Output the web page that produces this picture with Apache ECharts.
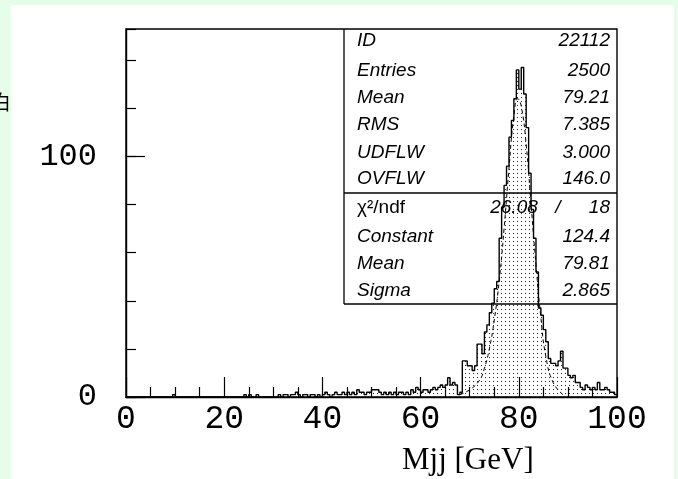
<!DOCTYPE html>
<html><head><meta charset="utf-8">
<script src="https://cdn.jsdelivr.net/npm/echarts@6/dist/echarts.min.js"></script>
<style>
html,body{margin:0;padding:0;background:#e6fde9;width:678px;height:479px;overflow:hidden}
#paper{position:absolute;left:11px;top:5px;width:663px;height:474px;background:#fff}
#chart{position:absolute;left:0;top:0;width:678px;height:479px}
</style></head><body>
<div id="paper"></div><div id="chart"></div>
<script>
// ---- data ----
const binLow = 0;          // GeV, lower edge of first bin
const binWidth = 0.5;      // GeV
const counts = [
  0,0,0,0,0,0,0,0,0,0,
  0,0,0,0,0,0,0,0,0,1,
  0,0,0,0,0,0,0,0,0,0,
  0,0,0,0,0,0,0,0,0,0,
  0,0,0,0,0,0,0,0,1,0,
  1,0,0,1,0,0,0,0,0,0,
  0,0,1,0,1,1,0,1,1,2,
  1,0,1,1,0,1,1,0,1,0,
  1,2,1,0,1,2,1,1,2,1,
  2,1,2,1,3,2,2,1,2,2,
  3,3,3,2,1,2,1,2,1,2,
  1,2,2,1,2,1,3,2,4,3,
  2,3,3,2,3,4,3,4,5,4,
  5,8,5,6,5,1,2,15,15,13,
  13,11,13,22,22,18,27,30,35,39,
  45,48,66,79,88,96,108,115,124,136,
  128,137,126,112,93,78,66,52,37,34,
  28,23,16,14,14,13,15,19,12,12,
  9,8,9,6,6,4,3,5,4,3,
  4,3,6,3,3,4,3,2,2,1
];
const fitX = [68,70,72,73,74,75,76,77,78,79,79.8,80.5,81.5,82.5,83.5,84.5,85.5,87,89];
const fitY = [1,3,7,12,20,32,48,70,95,117,124,121,105,80,55,33,17,6,1];
const xTickLabels = ['0','20','40','60','80','100'];
const yTickLabels = ['0','100'];
const statLabels = ['ID','Entries','Mean','RMS','UDFLW','OVFLW'];
const statValues = ['22112','2500','79.21','7.385','3.000','146.0'];
const fitLabels = ['χ²/ndf','Constant','Mean','Sigma'];
const fitValues = ['18','124.4','79.81','2.865'];
const chi2Value = '26.08';
const xTitle = 'Mjj [GeV]';

// ---- build ----
const histData = counts.map((c, i) => [binLow + i * binWidth, c]);
histData.push([binLow + counts.length * binWidth, counts[counts.length - 1]]);
const fitData = fitX.map((x, i) => [x, fitY[i]]);

const pc = document.createElement('canvas');
pc.width = 4; pc.height = 4;
const pctx = pc.getContext('2d');
pctx.fillStyle = '#222';
pctx.fillRect(1, 1, 1, 1);

const chart = echarts.init(document.getElementById('chart'), null, {renderer: 'canvas'});

const G = [];
const lineSt = {stroke: '#000', lineWidth: 1.3};
G.push({type: 'line', z: 50, shape: {x1: 344, y1: 29, x2: 344, y2: 304}, style: lineSt});
G.push({type: 'line', z: 50, shape: {x1: 344, y1: 193, x2: 617, y2: 193}, style: lineSt});
G.push({type: 'line', z: 50, shape: {x1: 344, y1: 304, x2: 617, y2: 304}, style: lineSt});
const rowsTop = [41, 71, 98, 125, 153, 179];
const rowsBot = [208, 237, 264, 291];
const italic = 'italic 19px "Liberation Sans", Arial, sans-serif';
statLabels.forEach((t, i) => {
  G.push({type: 'text', z: 60, x: 357, y: rowsTop[i], style: {text: t, font: italic, fill: '#000', align: 'left', verticalAlign: 'middle'}});
  G.push({type: 'text', z: 60, x: 610, y: rowsTop[i], style: {text: statValues[i], font: italic, fill: '#000', align: 'right', verticalAlign: 'middle'}});
});
fitLabels.forEach((t, i) => {
  G.push({type: 'text', z: 60, x: 357, y: rowsBot[i], style: {text: t, font: i === 0 ? '19px "Liberation Sans", Arial, sans-serif' : italic, fill: '#000', align: 'left', verticalAlign: 'middle'}});
  G.push({type: 'text', z: 60, x: 610, y: rowsBot[i], style: {text: fitValues[i], font: italic, fill: '#000', align: 'right', verticalAlign: 'middle'}});
});
G.push({type: 'text', z: 60, x: 514, y: rowsBot[0], style: {text: chi2Value, font: italic, fill: '#000', align: 'center', verticalAlign: 'middle'}});
G.push({type: 'text', z: 60, x: 558, y: rowsBot[0], style: {text: '/', font: italic, fill: '#000', align: 'center', verticalAlign: 'middle'}});
G.push({type: 'text', z: 60, x: 402, y: 461, style: {text: xTitle, font: '31px "Liberation Serif", "Times New Roman", serif', fill: '#000', align: 'left', verticalAlign: 'middle'}});
G.push({type: 'text', z: 60, x: -9, y: 102, style: {text: '白', font: '20px "Noto Sans CJK SC", sans-serif', fill: '#000', align: 'left', verticalAlign: 'middle'}});

chart.setOption({
  animation: false,
  backgroundColor: 'transparent',
  grid: {left: 126, right: 61, top: 29, bottom: 82, show: true, borderColor: '#000', borderWidth: 1.4, backgroundColor: 'transparent'},
  xAxis: {
    type: 'value', min: 0, max: 100, interval: 20,
    axisLine: {show: true, lineStyle: {color: '#000', width: 1.4}},
    axisTick: {show: true, inside: true, length: 20, lineStyle: {color: '#000', width: 1.2}},
    minorTick: {show: true, splitNumber: 4, length: 10, lineStyle: {color: '#000', width: 1.2}},
    splitLine: {show: false}, minorSplitLine: {show: false},
    axisLabel: {color: '#000', fontFamily: '"Liberation Mono", "Courier New", monospace', fontSize: 33, margin: 6,
      formatter: v => { const s = String(Math.round(v)); return xTickLabels.indexOf(s) >= 0 ? s : ''; }}
  },
  yAxis: [{
    type: 'value', min: 0, max: 153, interval: 20,
    axisLine: {show: true, lineStyle: {color: '#000', width: 1.4}},
    axisTick: {show: true, inside: true, length: 10, lineStyle: {color: '#000', width: 1.2}},
    axisLabel: {show: false}, splitLine: {show: false}
  }, {
    type: 'value', min: 0, max: 153, interval: 100, position: 'left',
    axisLine: {show: false},
    axisTick: {show: true, inside: true, length: 19, lineStyle: {color: '#000', width: 1.2}},
    axisLabel: {color: '#000', fontFamily: '"Liberation Mono", "Courier New", monospace', fontSize: 32, margin: 29,
      showMaxLabel: false,
      formatter: v => { const s = String(Math.round(v)); return yTickLabels.indexOf(s) >= 0 ? s : ''; }},
    splitLine: {show: false}
  }],
  series: [{
    type: 'line', step: 'end', data: histData, yAxisIndex: 0,
    showSymbol: false, symbol: 'none',
    lineStyle: {color: '#000', width: 1.4},
    areaStyle: {color: {image: pc, repeat: 'repeat'}, opacity: 1},
    z: 3
  }, {
    type: 'line', data: fitData, smooth: true, yAxisIndex: 0,
    showSymbol: false, symbol: 'none',
    lineStyle: {color: '#000', width: 1, type: [4, 3]},
    z: 4
  }],
  graphic: G
});
</script>
</body></html>
